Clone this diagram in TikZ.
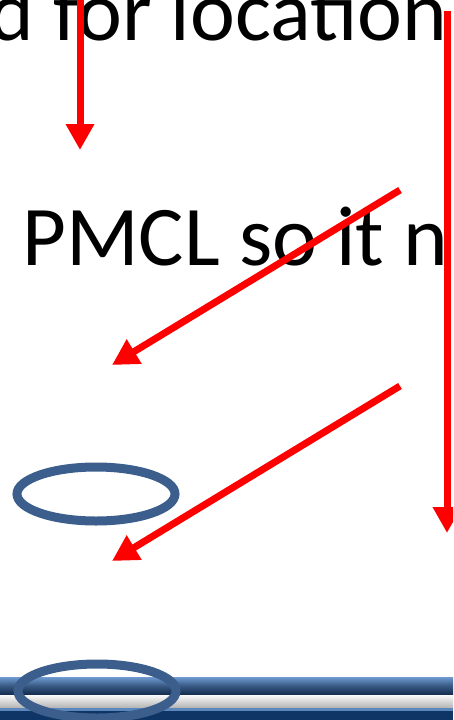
\documentclass[tikz,border=0pt]{standalone}
\usepackage{fontspec}
\setmainfont{Carlito}
\usetikzlibrary{arrows.meta,positioning}
\definecolor{ringblue}{HTML}{3B5E8C}
\definecolor{barnavy}{HTML}{0F3566}
\definecolor{barlight}{HTML}{6F9BD1}
\definecolor{bardark}{HTML}{152F52}
\tikzset{
    redarrow/.style={line width=7pt,color=red,-{Triangle[length=26pt,width=27pt]}},
    ring/.style={line width=9pt,color=ringblue},
    slidetext/.style={inner sep=0pt,anchor=base west,font=\fontsize{85}{90}\selectfont}
}

\begin{document}
\begin{tikzpicture}[x=1pt,y=-1pt]
    \useasboundingbox (0,0) rectangle (453,720);
    \clip (0,0) rectangle (453,720);

    % the two lines of text
    \node[slidetext] (location) at (-11,40) {d for location};
    \node[slidetext] (pmcl) at (22,265) {PMCL so it n};

    % end points of the arrows
    \coordinate (a1start) at (80,-5);
    \coordinate (a1end) at (80,150);
    \coordinate (a2start) at (447,11);
    \coordinate (a2end) at (447,533);
    \coordinate (a3start) at (400,190);
    \coordinate (a3end) at (112,365);
    \coordinate (a4start) at (400,386);
    \coordinate (a4end) at (112,561);

    % draw the red arrows
    \draw[redarrow] (a1start) -- (a1end);
    \draw[redarrow] (a2start) -- (a2end);
    \draw[redarrow] (a3start) -- (a3end);
    \draw[redarrow] (a4start) -- (a4end);

    % draw the bar at the bottom
    \shade[top color=white,bottom color=black!30] (0,694) rectangle (453,708);
    \shade[top color=barlight,bottom color=bardark,middle color=barlight!40!bardark] (0,677) rectangle (453,694);
    \fill[barlight!80!barnavy] (0,708) rectangle (453,710.5);
    \fill[barnavy] (0,710.5) rectangle (453,720);

    % draw the rings
    \draw[ring] (96,494) ellipse [x radius=79,y radius=27];
    \draw[ring] (97,691) ellipse [x radius=79,y radius=27];
\end{tikzpicture}
\end{document}
